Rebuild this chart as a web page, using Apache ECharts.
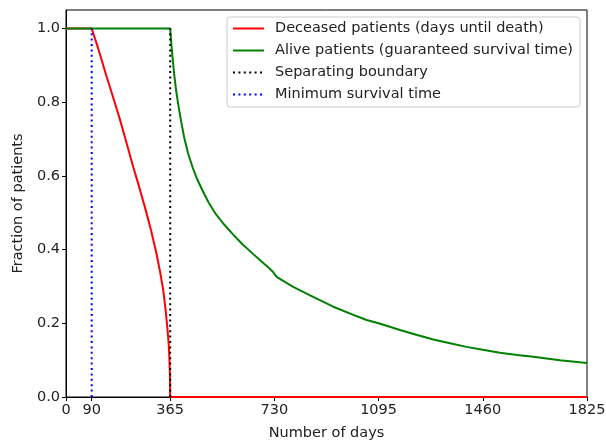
<!DOCTYPE html>
<html>
<head>
<meta charset="utf-8">
<script src="https://cdn.jsdelivr.net/npm/echarts@6/dist/echarts.min.js"></script>
<style>
  html, body { margin: 0; padding: 0; background: #fff; }
  #chart { width: 606px; height: 440px; }
</style>
</head>
<body>
<div id="chart"></div>
<script>
// values
const xTicks = [0, 90, 365, 730, 1095, 1460, 1825]
const yTicks = [0, 0.2, 0.4, 0.6, 0.8, 1.0]

const deceasedDays = [0, 90, 115, 140, 163, 187, 210, 233, 257, 280, 298, 315, 329, 341, 349, 356, 360, 362, 364, 365, 1825]
const deceasedFrac = [1, 1, 0.94, 0.875, 0.818, 0.758, 0.695, 0.631, 0.568, 0.505, 0.452, 0.396, 0.342, 0.288, 0.235, 0.18, 0.14, 0.108, 0.06, 0, 0]

const aliveDays = [0, 365, 369, 374, 379, 386, 395, 404, 414, 428, 444, 460, 479, 500, 525, 554, 584, 620, 654,
  680, 705, 722, 738, 765, 796, 855, 936, 1000, 1053, 1095, 1170, 1230, 1287, 1345, 1403, 1460, 1520, 1580, 1637, 1730, 1825]
const aliveFrac = [1, 1, 0.957, 0.915, 0.875, 0.83, 0.785, 0.745, 0.704, 0.66, 0.622, 0.59, 0.559, 0.527, 0.496, 0.468, 0.442, 0.413, 0.389,
  0.371, 0.354, 0.342, 0.326, 0.313, 0.299, 0.276, 0.245, 0.225, 0.209, 0.2, 0.182, 0.168, 0.156, 0.146, 0.136, 0.128, 0.12, 0.114, 0.109, 0.1, 0.092]

const boundaryDays = [365, 365]
const boundaryFrac = [0, 1]
const minSurvivalDays = [90, 90]
const minSurvivalFrac = [0, 1]

const seriesNames = [
  'Deceased patients (days until death)',
  'Alive patients (guaranteed survival time)',
  'Separating boundary',
  'Minimum survival time',
]

function pairs(xs, ys) {
  return xs.map((x, i) => [x, ys[i]])
}

const textColor = '#222'
const font = 'DejaVu Sans'
const fontSize = 14.5
const dotted = [2, 3.4]

const chart = echarts.init(document.getElementById('chart'))
chart.setOption({
  animation: false,
  textStyle: { fontFamily: font },
  grid: {
    left: 66,
    right: 19,
    top: 10,
    bottom: 43,
    outerBoundsMode: 'none',
    show: true,
    borderColor: '#000',
    borderWidth: 1,
  },
  legend: {
    orient: 'vertical',
    left: 227,
    top: 17,
    itemWidth: 31,
    itemHeight: 14,
    itemGap: 7,
    padding: [4, 7, 5, 5],
    borderColor: '#ccc',
    borderWidth: 1,
    borderRadius: 3,
    backgroundColor: 'rgba(255,255,255,0.8)',
    itemStyle: { opacity: 0 },
    textStyle: { fontFamily: font, fontSize: fontSize, color: textColor, padding: [0, 0, 0, 6] },
    data: seriesNames,
  },
  xAxis: {
    type: 'value',
    min: 0,
    max: 1825,
    name: 'Number of days',
    nameLocation: 'middle',
    nameGap: 29,
    nameTextStyle: { fontFamily: font, fontSize: fontSize, color: textColor },
    splitLine: { show: false },
    axisLine: { show: true, lineStyle: { color: '#000', width: 1 } },
    axisTick: { show: true, length: 4, customValues: xTicks, lineStyle: { color: '#000' } },
    axisLabel: {
      customValues: xTicks,
      fontFamily: font,
      fontSize: fontSize,
      color: textColor,
      margin: 6,
      formatter: (v) => String(v),
    },
  },
  yAxis: {
    type: 'value',
    min: 0,
    max: 1.05,
    name: 'Fraction of patients',
    nameLocation: 'middle',
    nameGap: 38,
    nameTextStyle: { fontFamily: font, fontSize: fontSize, color: textColor },
    splitLine: { show: false },
    axisLine: { show: true, lineStyle: { color: '#000', width: 1 } },
    axisTick: { show: true, length: 4, customValues: yTicks, lineStyle: { color: '#000' } },
    axisLabel: {
      customValues: yTicks,
      fontFamily: font,
      fontSize: fontSize,
      color: textColor,
      margin: 6,
      formatter: (v) => v.toFixed(1),
    },
  },
  series: [
    {
      name: seriesNames[0],
      type: 'line',
      symbol: 'none',
      z: 2,
      lineStyle: { color: '#ff0000', width: 2 },
      itemStyle: { color: '#ff0000' },
      data: pairs(deceasedDays, deceasedFrac),
    },
    {
      name: seriesNames[1],
      type: 'line',
      symbol: 'none',
      z: 3,
      lineStyle: { color: '#008000', width: 2 },
      itemStyle: { color: '#008000' },
      data: pairs(aliveDays, aliveFrac),
    },
    {
      name: seriesNames[2],
      type: 'line',
      symbol: 'none',
      z: 4,
      lineStyle: { color: '#000', width: 2, type: dotted },
      itemStyle: { color: '#000' },
      data: pairs(boundaryDays, boundaryFrac),
    },
    {
      name: seriesNames[3],
      type: 'line',
      symbol: 'none',
      z: 4,
      lineStyle: { color: '#0000ff', width: 2, type: dotted },
      itemStyle: { color: '#0000ff' },
      data: pairs(minSurvivalDays, minSurvivalFrac),
    },
  ],
})
</script>
</body>
</html>
